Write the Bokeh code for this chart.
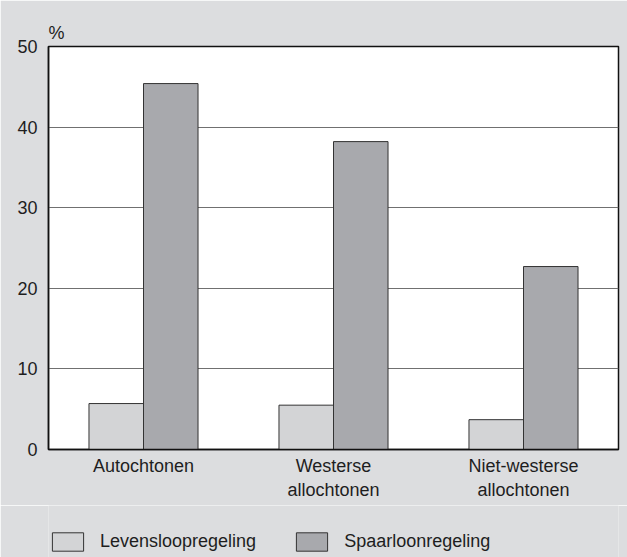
from bokeh.plotting import figure
from bokeh.layouts import column
from bokeh.models import FactorRange, Range1d, Legend, LegendItem, Title, FixedTicker, ColumnDataSource
from bokeh.transform import dodge
from bokeh.embed import file_html
from bokeh.resources import INLINE

categories = ["Autochtonen", "Westerse\nallochtonen", "Niet-westerse\nallochtonen"]
levensloop = [5.7, 5.5, 3.7]
spaarloon = [45.4, 38.2, 22.7]
series_names = ["Levensloopregeling", "Spaarloonregeling"]
y_ticks = [0, 10, 20, 30, 40, 50]
unit_label = "%"

FONT = "Liberation Sans"
FS = "18px"
TXT = "#1e1e1e"
BG = "#dcdddf"
LIGHT = "#d3d4d6"
DARK = "#a8a9ad"
EDGE = "#333333"

src = ColumnDataSource(dict(cat=categories, lev=levensloop, spa=spaarloon))

p = figure(width=627, height=505,
           x_range=FactorRange(*categories, range_padding=0),
           y_range=Range1d(0, 50),
           output_backend="svg", toolbar_location=None,
           min_border_left=48, min_border_right=9, min_border_top=46, min_border_bottom=56)

p.border_fill_color = BG
p.background_fill_color = "white"
p.outline_line_color = "#111111"
p.outline_line_width = 1.5

bw = 0.287
p.vbar(x=dodge("cat", -bw / 2, range=p.x_range), top="lev", width=bw, source=src,
       fill_color=LIGHT, line_color=EDGE, line_width=1)
p.vbar(x=dodge("cat", bw / 2, range=p.x_range), top="spa", width=bw, source=src,
       fill_color=DARK, line_color=EDGE, line_width=1)

p.xgrid.grid_line_color = None
p.ygrid.ticker = FixedTicker(ticks=y_ticks)
p.ygrid.grid_line_color = "#707070"
p.ygrid.grid_line_width = 1

p.yaxis.ticker = FixedTicker(ticks=y_ticks)
for ax in (p.xaxis[0], p.yaxis[0]):
    ax.axis_line_color = "#111111"
    ax.axis_line_width = 1.5
    ax.major_tick_line_color = None
    ax.minor_tick_line_color = None
    ax.major_label_text_font = FONT
    ax.major_label_text_font_size = FS
    ax.major_label_text_color = TXT
p.yaxis.major_label_standoff = 5
p.xaxis.major_label_standoff = 0

p.add_layout(Title(text=unit_label, align="left", text_font=FONT, text_font_size=FS,
                   text_font_style="normal", text_color=TXT, standoff=7), "above")

# legend strip below the chart (hidden copies of the series provide the legend swatches)
lf = figure(width=627, height=52, x_range=FactorRange(*categories, range_padding=0),
            y_range=Range1d(0, 50),
            x_axis_type=None, y_axis_type=None, output_backend="svg", toolbar_location=None,
            min_border=0)
lf.border_fill_color = BG
lf.background_fill_color = BG
lf.outline_line_color = None
lf.grid.visible = False
l1 = lf.vbar(x=dodge("cat", -bw / 2, range=lf.x_range), top="lev", width=bw, source=src,
             fill_color=LIGHT, line_color=EDGE, line_width=1, visible=False)
l2 = lf.vbar(x=dodge("cat", bw / 2, range=lf.x_range), top="spa", width=bw, source=src,
             fill_color=DARK, line_color=EDGE, line_width=1, visible=False)

legend = Legend(items=[LegendItem(label=series_names[0], renderers=[l1]),
                       LegendItem(label=series_names[1], renderers=[l2])],
                orientation="horizontal", location=(0, -2),
                glyph_width=39, glyph_height=23, label_standoff=13, spacing=36,
                label_height=35, inactive_fill_alpha=0,
                label_text_font=FONT, label_text_font_size=FS, label_text_color=TXT,
                border_line_alpha=0, background_fill_alpha=0, margin=0, padding=0)
lf.add_layout(legend, "center")

layout = column(p, lf, spacing=0)
html = file_html(layout, INLINE)
html = html.replace("<body>", '<body style="background:#dcdddf">', 1)
open("out.html", "w").write(html)
